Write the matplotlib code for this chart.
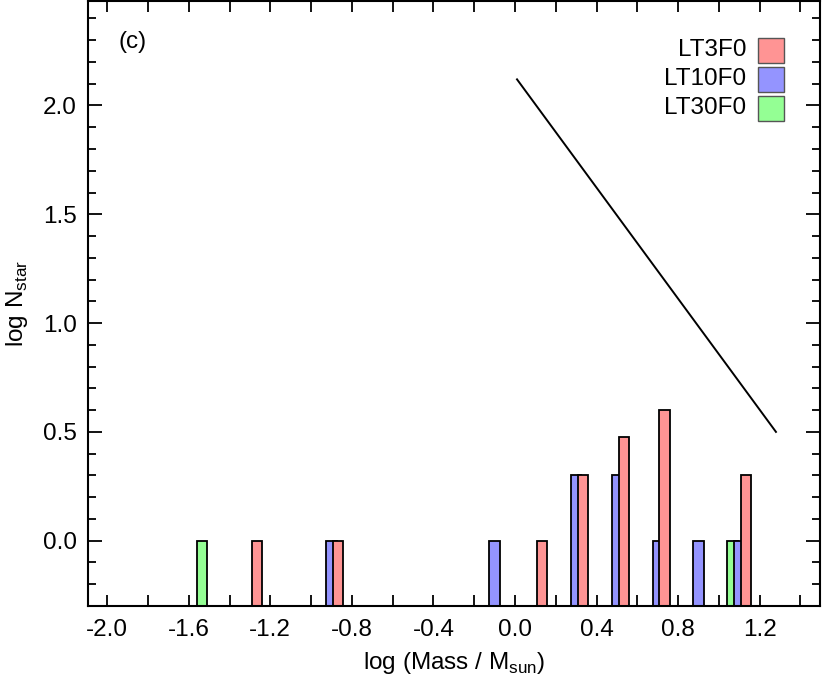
import numpy as np
import matplotlib
matplotlib.use("Agg")
import matplotlib.pyplot as plt
from matplotlib.patches import Rectangle

plt.rcParams['font.family'] = ['Liberation Sans', 'DejaVu Sans']

# log N_star per mass bin (bin centres in log M/Msun)
lt3_x = [-1.3, -0.9, 0.1, 0.3, 0.5, 0.7, 1.1]
lt3_y = [0.0, 0.0, 0.0, 0.301, 0.477, 0.602, 0.301]

lt10_x = [-0.9, -0.1, 0.3, 0.5, 0.7, 0.9, 1.1]
lt10_y = [0.0, 0.0, 0.301, 0.301, 0.0, 0.0, 0.0]

lt30_x = [-1.5, 1.1]
lt30_y = [0.0, 0.0]

# reference slope line
line_x = [0.01, 1.28]
line_y = [2.12, 0.50]

labels = ['LT3F0', 'LT10F0', 'LT30F0']
colors = ['#ff9494', '#9494ff', '#94ff94']

ymin = -0.3
bw = 0.05
fs = 17.5

fig = plt.figure(figsize=(8.3, 6.85), dpi=100)
ax = fig.add_axes([88/830, 79/685, 732/830, 605/685])

# draw order: green, blue, red (red on top)
series = [(lt30_x, lt30_y, -0.033, colors[2]),
          (lt10_x, lt10_y, 0.0, colors[1]),
          (lt3_x, lt3_y, 0.033, colors[0])]
for xs, ys, off, c in series:
    xs = np.array(xs) + off
    ax.bar(xs, np.array(ys) - ymin, width=bw, bottom=ymin, color=c,
           edgecolor='black', linewidth=1.3, zorder=2)

ax.plot(line_x, line_y, color='black', lw=1.4, zorder=3)

ax.set_xlim(-2.094, 1.496)
ax.set_ylim(ymin, 2.48)

xt = np.round(np.arange(-2.0, 1.3, 0.4), 1) + 0.0
ax.set_xticks(xt)
ax.set_xticklabels(['%.1f' % abs(v) if abs(v) < 1e-9 else '%.1f' % v for v in xt])
ax.set_xticks(np.arange(-2.0, 1.5, 0.2), minor=True)
ax.set_yticks([0.0, 0.5, 1.0, 1.5, 2.0])
ax.set_yticklabels(['0.0', '0.5', '1.0', '1.5', '2.0'])
ax.set_yticks(np.arange(-0.2, 2.45, 0.1), minor=True)

ax.tick_params(axis='x', which='both', direction='in', top=True,
               length=8, width=1.3, labelsize=fs, pad=9)
ax.tick_params(axis='y', which='major', direction='in', right=True,
               length=10, width=1.3, labelsize=fs, pad=8)
ax.tick_params(axis='y', which='minor', direction='in', right=True,
               length=5.5, width=1.3)
for s in ax.spines.values():
    s.set_linewidth(1.5)

ax.set_xlabel(r'log (Mass / M$_\mathregular{sun}$)', fontsize=fs, labelpad=7)
ax.set_ylabel(r'log N$_\mathregular{star}$', fontsize=fs, labelpad=9)

ax.text(0.041, 0.932, '(c)', transform=ax.transAxes, fontsize=fs,
        va='center', ha='left')

# legend: labels right-aligned, colour squares at the right
for i, (lab, c) in enumerate(zip(labels, colors)):
    yc = 1 - (49 + 29*i)/605
    ax.add_patch(Rectangle(((758-88)/732, yc - 12.5/605), 26/732, 25/605,
                           transform=ax.transAxes, facecolor=c,
                           edgecolor='#555555', lw=1.0, zorder=4))
    ax.text((746-88)/732, yc, lab, transform=ax.transAxes, fontsize=fs,
            ha='right', va='center')

fig.savefig('out.png', dpi=100)
